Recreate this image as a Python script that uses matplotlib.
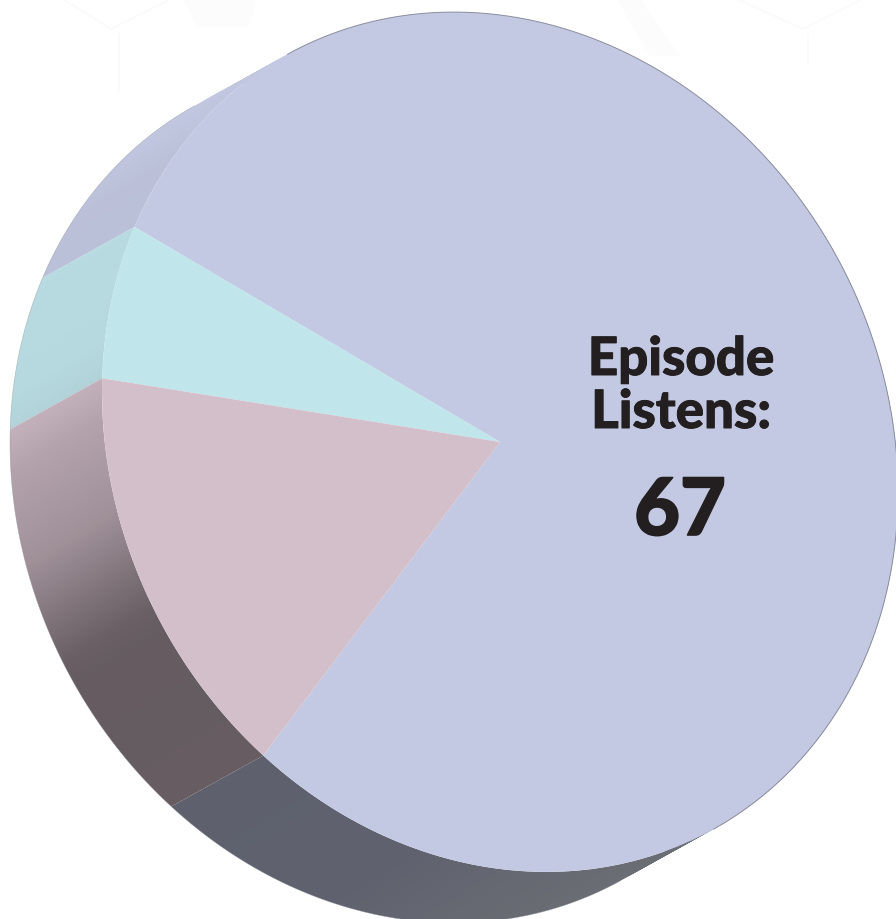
import matplotlib
matplotlib.use("Agg")
import matplotlib.pyplot as plt
import matplotlib.patheffects as pe
import numpy as np
from matplotlib.path import Path
from matplotlib.patches import PathPatch
from matplotlib.transforms import Affine2D

plt.rcParams['font.family'] = ['Lato', 'DejaVu Sans']

labels = ['A', 'B', 'C']
listens = [52.7, 4, 10.3]
title_lines = ['Episode', 'Listens:']
total_label = '67'

top_colors = ['#c3c9e2', '#c0e5eb', '#d3bfca']
start_angle = 233.5

# top face geometry in pixels: sheared ellipse
cx, cy = 500, 443
a, d, e = 398.0, -50.0, 427.0
shift = np.array([-92.0, 51.0])

W, H = 896, 920
fig = plt.figure(figsize=(W / 100, H / 100), dpi=100)
ax = fig.add_axes([0, 0, 1, 1])

wedges, _ = ax.pie(listens, colors=top_colors, startangle=start_angle, radius=1)

ax.set_aspect('auto')
ax.set_xlim(0, W)
ax.set_ylim(H, 0)
ax.axis('off')

to_px = Affine2D.from_values(a, -d, 0, -e, cx, cy)


def rim(t):
    t = np.radians(t)
    return to_px.transform(np.column_stack([np.cos(t), np.sin(t)]))


# faint background lines
for xs, ys in [([63, 111, 171], [0, 30, 0]), ([737, 803, 863], [0, 30, 0]),
               ([119, 119], [35, 93]), ([808, 808], [35, 65])]:
    ax.plot(xs, ys, color='#fafafa', lw=1.2, zorder=0)
ax.fill([183, 197, 248, 257], [0, 27, 27, 0], color='#fcfcfc', lw=0, zorder=0)
ax.fill([617, 640, 680, 650], [0, 0, 57, 57], color='#fcfcfc', lw=0, zorder=0)

# shading of the extruded side
yy, xx = np.mgrid[0:H, 0:W]
depth = yy + 0.6 * xx
shade = np.interp(depth, [215, 262, 400, 440, 480, 580, 640, 700, 730, 1100, 1300],
                  [1.0, 0.96, 0.95, 0.92, 0.85, 0.76, 0.63, 0.50, 0.48, 0.49, 0.55])
# far right of the side goes greyer
grey = np.interp(depth, [1100, 1300], [0.0, 0.6])[..., None]

for w, col in zip(wedges, top_colors):
    arc = rim(np.linspace(w.theta1, w.theta2, 400))
    verts, codes = [], []
    for p, q in zip(arc[:-1], arc[1:]):
        quad = np.array([p, q, q + shift, p + shift])
        x, y = quad[:, 0], quad[:, 1]
        if np.sum(x * np.roll(y, -1) - np.roll(x, -1) * y) < 0:
            quad = quad[::-1]
        verts.extend(list(quad) + [quad[0]])
        codes.extend([Path.MOVETO, Path.LINETO, Path.LINETO, Path.LINETO, Path.CLOSEPOLY])
    side = PathPatch(Path(verts, codes), transform=ax.transData, fc='none', ec='none')
    ax.add_patch(side)
    rgb = np.array(matplotlib.colors.to_rgb(col))
    shaded = shade[..., None] * rgb
    shaded = (1 - grey) * shaded + grey * shaded.mean(axis=2, keepdims=True)
    img = ax.imshow(shaded, extent=(0, W, H, 0), aspect='auto',
                    interpolation='bilinear', zorder=1)
    img.set_clip_path(side)

# imshow resets the limits
ax.set_xlim(0, W)
ax.set_ylim(H, 0)

for w in wedges:
    w.set_transform(to_px + ax.transData)
    w.set_linewidth(0)
    w.set_zorder(2)

# thin outline along the silhouette
t = np.linspace(0, 360, 1441)
pts = rim(t)
tang = np.gradient(pts, axis=0)
outer = tang[:, 0] * shift[1] - tang[:, 1] * shift[0]
top_rim = pts.copy()
top_rim[outer > 0] = np.nan
low_rim = pts + shift
low_rim[outer < 0] = np.nan
ax.plot(top_rim[:, 0], top_rim[:, 1], color='#8d8f9e', lw=0.7, zorder=3)
ax.plot(low_rim[:, 0], low_rim[:, 1], color='#8d8f9e', lw=0.4, alpha=0.6, zorder=3)

thick = [pe.withStroke(linewidth=0.7, foreground='#231f20')]
thicker = [pe.withStroke(linewidth=1.2, foreground='#231f20')]
ax.text(681, 376, title_lines[0], ha='center', va='baseline', fontsize=38,
        fontweight='black', color='#231f20', zorder=4, path_effects=thick)
ax.text(681, 429, title_lines[1], ha='center', va='baseline', fontsize=38,
        fontweight='black', color='#231f20', zorder=4, path_effects=thick)
ax.text(680, 536, total_label, ha='center', va='baseline', fontsize=57,
        fontweight='black', color='#231f20', zorder=4, path_effects=thicker)

fig.savefig('out.png', dpi=100)
